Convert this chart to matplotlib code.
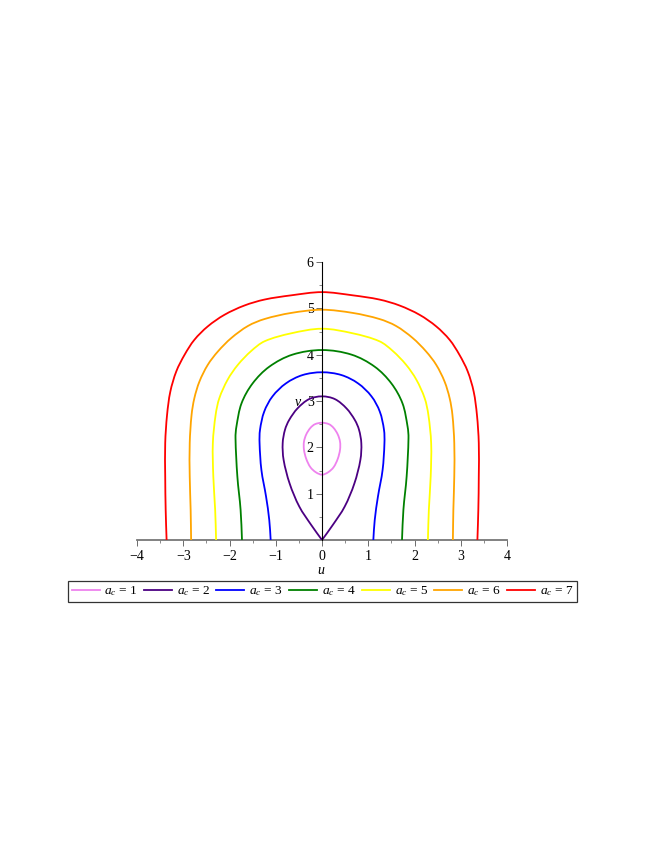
import math
import matplotlib
matplotlib.use("Agg")
import matplotlib.pyplot as plt
from matplotlib.path import Path
from matplotlib.patches import PathPatch
from matplotlib.lines import Line2D
from matplotlib.ticker import MultipleLocator

plt.rcParams['font.family'] = ['Liberation Serif', 'DejaVu Serif']
plt.rcParams['mathtext.fontset'] = 'custom'
plt.rcParams['mathtext.rm'] = 'Liberation Serif'
plt.rcParams['mathtext.it'] = 'Liberation Serif:italic'

# right half of every level curve (u >= 0), top to bottom
u1 = [0.00, 0.15, 0.25, 0.34, 0.39, 0.39, 0.34, 0.25, 0.13, 0.00]
v1 = [2.53, 2.50, 2.42, 2.28, 2.12, 1.95, 1.75, 1.57, 1.46, 1.41]

u2 = [0.00, 0.28, 0.53, 0.71, 0.80, 0.85, 0.83, 0.70, 0.49, 0.23, 0.00]
v2 = [3.10, 3.04, 2.84, 2.59, 2.38, 2.09, 1.73, 1.22, 0.72, 0.32, 0.00]

u3 = [0.00, 0.42, 0.78, 1.07, 1.25, 1.34, 1.35, 1.31, 1.21, 1.14, 1.11]
v3 = [3.62, 3.56, 3.38, 3.10, 2.77, 2.38, 2.09, 1.51, 0.94, 0.43, 0.00]

u4 = [0.00, 0.64, 1.14, 1.50, 1.74, 1.85, 1.87, 1.83, 1.76, 1.73]
v4 = [4.10, 4.00, 3.74, 3.38, 2.95, 2.45, 2.20, 1.37, 0.65, 0.00]

u5 = [0.00, 0.67, 1.24, 1.53, 1.82, 2.04, 2.22, 2.30, 2.36, 2.35, 2.31, 2.29]
v5 = [4.56, 4.46, 4.29, 4.08, 3.78, 3.46, 3.06, 2.70, 2.09, 1.37, 0.65, 0.00]

u6 = [0.00, 0.67, 1.24, 1.60, 1.96, 2.25, 2.47, 2.65, 2.76, 2.82, 2.86, 2.86, 2.84, 2.83]
v6 = [4.97, 4.90, 4.77, 4.62, 4.36, 4.07, 3.78, 3.42, 3.06, 2.70, 2.09, 1.37, 0.65, 0.00]

u7 = [0.00, 0.67, 1.24, 1.68, 2.11, 2.47, 2.76, 2.97, 3.15, 3.28, 3.35, 3.39, 3.39, 3.38, 3.36]
v7 = [5.35, 5.28, 5.19, 5.06, 4.86, 4.61, 4.32, 4.00, 3.64, 3.20, 2.70, 2.09, 1.37, 0.65, 0.00]

ac_values = [1, 2, 3, 4, 5, 6, 7]
halves = [(u1, v1), (u2, v2), (u3, v3), (u4, v4), (u5, v5), (u6, v6), (u7, v7)]
colors = ['#EE82EE', '#4B0082', '#0000FF', '#008000', '#FFFF00', '#FFA500', '#FF0000']


def smooth_path(xs, ys, closed=False):
    # cubic bezier through the read points; handle length follows the
    # segment length so uneven spacing does not make the curve wobble
    pts = list(zip(xs, ys))
    n = len(pts)

    def tangent(i):
        a = pts[i - 1] if i > 0 else (pts[-2] if closed else pts[i])
        b = pts[i + 1] if i < n - 1 else (pts[1] if closed else pts[i])
        dx, dy = b[0] - a[0], b[1] - a[1]
        d = math.hypot(dx, dy) or 1.0
        return dx / d, dy / d

    verts = [pts[0]]
    codes = [Path.MOVETO]
    for i in range(n - 1):
        p1, p2 = pts[i], pts[i + 1]
        seg = math.hypot(p2[0] - p1[0], p2[1] - p1[1]) / 3
        t1, t2 = tangent(i), tangent(i + 1)
        verts += [(p1[0] + t1[0] * seg, p1[1] + t1[1] * seg),
                  (p2[0] - t2[0] * seg, p2[1] - t2[1] * seg), p2]
        codes += [Path.CURVE4] * 3
    return Path(verts, codes)


fig = plt.figure(figsize=(6.64, 8.6), dpi=100)
ax = fig.add_axes([137/664, 1 - 540/860, 370/664, 278/860])

handles = []
for ac, (uh, vh), c in zip(ac_values, halves, colors):
    closed = ac == 1
    if closed:
        # loop: right half top->bottom, then left half bottom->top
        uu = uh + [-x for x in uh[::-1]][1:]
        vv = vh + vh[::-1][1:]
    else:
        # symmetric in u: left half is the mirror of the right half
        uu = [-x for x in uh[::-1]] + uh[1:]
        vv = vh[::-1] + vh[1:]
    ax.add_patch(PathPatch(smooth_path(uu, vv, closed), facecolor='none',
                           edgecolor=c, lw=1.3, zorder=3))
    handles.append(Line2D([], [], color=c, lw=1.3, label=r'$a_c$ = %d' % ac))

ax.set_xlim(-4, 4)
ax.set_ylim(0, 6)

ax.spines['left'].set_position(('data', 0))
ax.spines['bottom'].set_position(('data', 0))
ax.spines['right'].set_visible(False)
ax.spines['top'].set_visible(False)
ax.spines['left'].set_color('black')
ax.spines['left'].set_linewidth(0.8)
ax.spines['bottom'].set_color('#777777')
ax.spines['bottom'].set_linewidth(1.3)
ax.spines['left'].set_zorder(4)

ax.xaxis.set_major_locator(MultipleLocator(1))
ax.xaxis.set_minor_locator(MultipleLocator(0.5))
ax.set_yticks([1, 2, 3, 4, 5, 6])
ax.yaxis.set_minor_locator(MultipleLocator(0.5))
ax.tick_params(which='major', length=4, width=0.6, color='#555555', labelsize=10, pad=2)
ax.tick_params(which='minor', length=2.5, width=0.6, color='#777777')
ax.tick_params(axis='x', which='major', pad=3)

ax.text(0.497, -0.11, 'u', transform=ax.transAxes, ha='center', va='center',
        fontsize=10, style='italic')
ax.text(0.435, 0.496, 'v', transform=ax.transAxes, ha='center', va='center',
        fontsize=10, style='italic')

leg = fig.legend(handles=handles, loc='center',
                 bbox_to_anchor=(322.5/664, 1 - 591.5/860), ncol=7,
                 fontsize=9.6, frameon=True, fancybox=False, edgecolor='black',
                 handlelength=2.1, handletextpad=0.35, columnspacing=0.48,
                 borderpad=0.28, borderaxespad=0)
leg.get_frame().set_linewidth(0.9)

fig.savefig('out.png', dpi=100)
